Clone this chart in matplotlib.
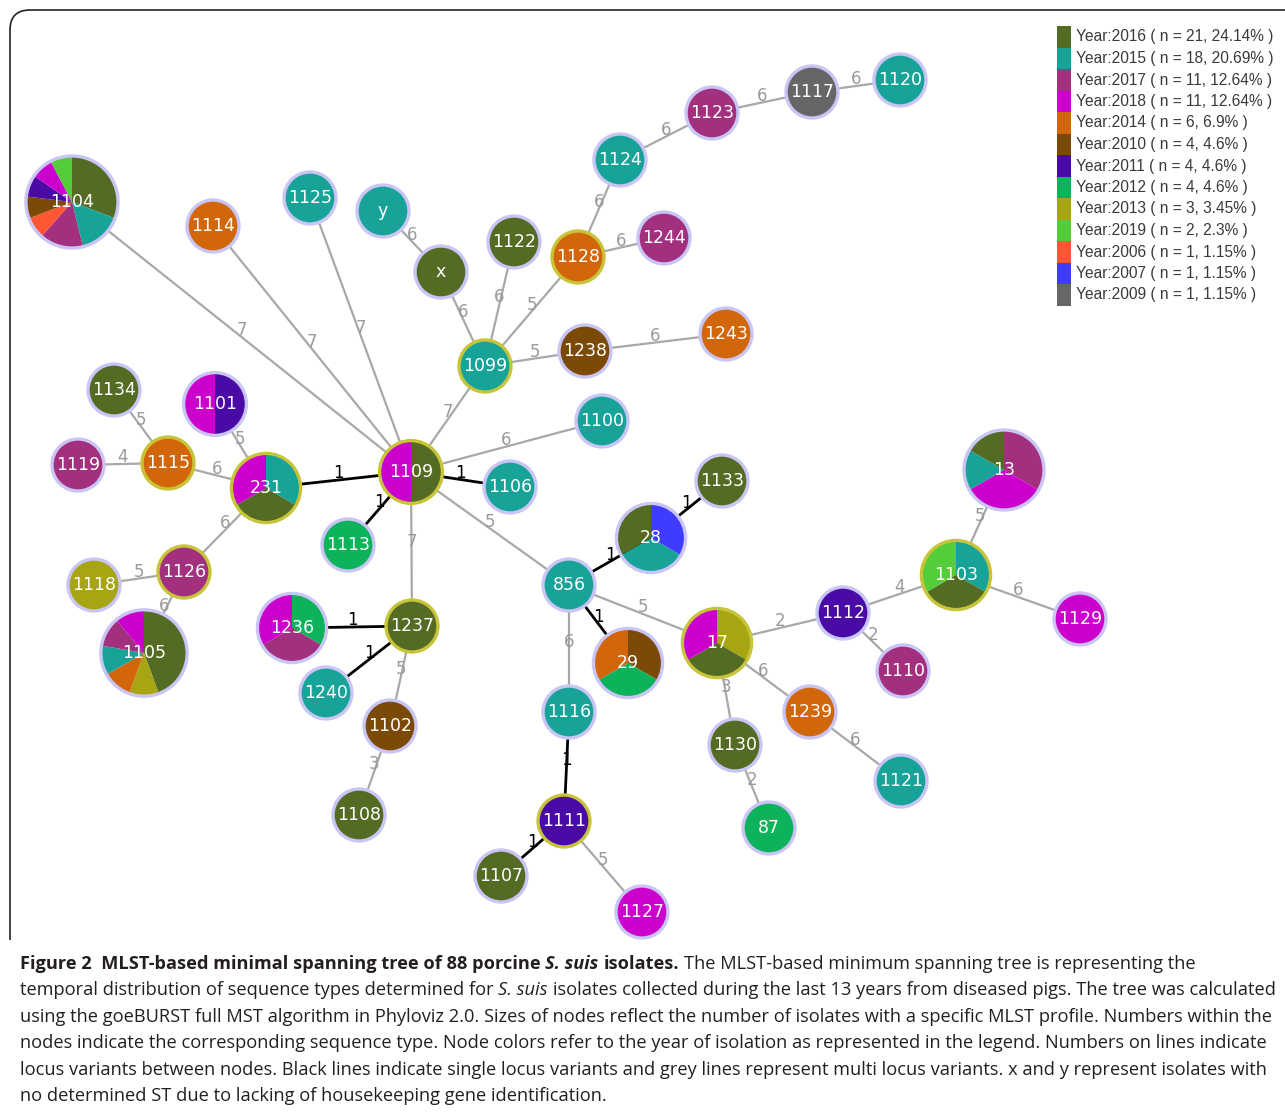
import numpy as np
import matplotlib
matplotlib.use("Agg")
import matplotlib.pyplot as plt
from matplotlib.patches import Wedge, Circle, Rectangle, PathPatch
from matplotlib.path import Path

# Year colours (Phyloviz palette)
year_colors = {
    "2016": "#546b24", "2015": "#17a398", "2017": "#a2307e", "2018": "#cc00cc",
    "2014": "#d2660b", "2010": "#7b4a06", "2011": "#4a0aa6", "2012": "#0db35a",
    "2013": "#a8a512", "2019": "#55cc3a", "2006": "#ff5733", "2007": "#3f3bff",
    "2009": "#666666",
}

# Legend entries
legend_years = ["2016", "2015", "2017", "2018", "2014", "2010", "2011",
                "2012", "2013", "2019", "2006", "2007", "2009"]
legend_n = [21, 18, 11, 11, 6, 4, 4, 4, 3, 2, 1, 1, 1]
legend_pct = ["24.14", "20.69", "12.64", "12.64", "6.9", "4.6", "4.6",
              "4.6", "3.45", "2.3", "1.15", "1.15", "1.15"]

# Sequence types and isolates per year (slice order clockwise from top)
st_labels = ["1104", "1114", "1125", "y", "x", "1122", "1128", "1124", "1123",
             "1117", "1120", "1244", "1099", "1238", "1243", "1100", "1134",
             "1101", "1119", "1115", "231", "1109", "1106", "1113", "1133",
             "28", "13", "856", "1118", "1126", "1105", "1236", "1237", "1240",
             "1102", "1108", "1103", "1129", "1112", "1110", "17", "29", "1239",
             "1121", "1130", "87", "1116", "1111", "1107", "1127"]
st_isolates = [
    {"2016": 4, "2015": 2, "2017": 2, "2006": 1, "2010": 1, "2011": 1, "2018": 1, "2019": 1},
    {"2014": 1}, {"2015": 1}, {"2015": 1}, {"2016": 1}, {"2016": 1}, {"2014": 1},
    {"2015": 1}, {"2017": 1}, {"2009": 1}, {"2015": 1}, {"2017": 1}, {"2015": 1},
    {"2010": 1}, {"2014": 1}, {"2015": 1}, {"2016": 1},
    {"2011": 1, "2018": 1},
    {"2017": 1}, {"2014": 1},
    {"2015": 1, "2016": 1, "2018": 1},
    {"2016": 1, "2018": 1},
    {"2015": 1}, {"2012": 1}, {"2016": 1},
    {"2007": 1, "2015": 1, "2016": 1},
    {"2017": 2, "2018": 2, "2015": 1, "2016": 1},
    {"2015": 1}, {"2013": 1}, {"2017": 1},
    {"2016": 4, "2013": 1, "2014": 1, "2015": 1, "2017": 1, "2018": 1},
    {"2012": 1, "2017": 1, "2018": 1},
    {"2016": 1}, {"2015": 1}, {"2010": 1}, {"2016": 1},
    {"2015": 1, "2016": 1, "2019": 1},
    {"2018": 1}, {"2011": 1}, {"2017": 1},
    {"2013": 1, "2016": 1, "2018": 1},
    {"2010": 1, "2012": 1, "2014": 1},
    {"2014": 1}, {"2015": 1}, {"2016": 1}, {"2012": 1}, {"2015": 1}, {"2011": 1},
    {"2016": 1}, {"2018": 1},
]
# group founders get the yellow outline
founders = ["1109", "231", "1115", "1126", "1237", "1099", "1128", "17", "1103", "1111"]

# goeBURST links and number of differing loci
edge_pairs = [("1104", "1109"), ("1114", "1109"), ("1125", "1109"), ("y", "x"),
              ("x", "1099"), ("1122", "1099"), ("1128", "1099"), ("1124", "1128"),
              ("1123", "1124"), ("1117", "1123"), ("1120", "1117"), ("1244", "1128"),
              ("1238", "1099"), ("1243", "1238"), ("1099", "1109"), ("1100", "1109"),
              ("1106", "1109"), ("231", "1109"), ("1113", "1109"), ("1237", "1109"),
              ("856", "1109"), ("1134", "1115"), ("1119", "1115"), ("1115", "231"),
              ("1101", "231"), ("1126", "231"), ("1118", "1126"), ("1105", "1126"),
              ("1236", "1237"), ("1240", "1237"), ("1102", "1237"), ("1108", "1102"),
              ("28", "856"), ("1133", "28"), ("29", "856"), ("17", "856"),
              ("1116", "856"), ("1111", "1116"), ("1107", "1111"), ("1127", "1111"),
              ("1112", "17"), ("1110", "1112"), ("1103", "1112"), ("13", "1103"),
              ("1129", "1103"), ("1239", "17"), ("1121", "1239"), ("1130", "17"),
              ("87", "1130")]
edge_variants = [7, 7, 7, 6, 6, 6, 5, 6, 6, 6, 6, 6, 5, 6, 7, 6, 1, 1, 1, 7, 5,
                 5, 4, 6, 5, 6, 5, 6, 1, 1, 5, 3, 1, 1, 1, 5, 6, 1, 1, 5, 2, 2,
                 4, 5, 6, 6, 6, 3, 2]

# layout positions of the tree (pixel space)
st_x = [72, 213, 310, 383, 441, 514, 578, 620, 712, 812, 900, 664, 485, 585, 726,
        602, 114, 215, 78, 168, 266, 411, 510, 348, 722, 651, 1004, 569, 94, 184,
        144, 292, 412, 326, 390, 359, 956, 1080, 843, 903, 717, 628, 810, 901, 735,
        769, 569, 564, 501, 642]
st_y = [202, 226, 198, 211, 272, 242, 257, 160, 113, 92, 80, 238, 366, 351, 334,
        421, 390, 404, 465, 463, 488, 472, 487, 545, 481, 538, 470, 585, 585, 572,
        653, 628, 626, 693, 726, 815, 575, 619, 613, 671, 643, 663, 712, 781, 745,
        828, 712, 821, 876, 912]

W, H = 1285, 1115
fig = plt.figure(figsize=(W / 100, H / 100), dpi=100)
ax = fig.add_axes([0, 0, 1, 1])
ax.set_xlim(0, W)
ax.set_ylim(H, 0)
ax.axis("off")

pos = {s: (x, y) for s, x, y in zip(st_labels, st_x, st_y)}

# frame around the tree
frame = Path([(10, 940), (10, 30), (10, 10), (30, 10), (1300, 10)],
             [Path.MOVETO, Path.LINETO, Path.CURVE3, Path.CURVE3, Path.LINETO])
ax.add_patch(PathPatch(frame, fill=False, lw=1.2, edgecolor="#222222"))

# links
for (a, b), v in zip(edge_pairs, edge_variants):
    (x1, y1), (x2, y2) = pos[a], pos[b]
    col = "black" if v == 1 else "#a8a8a8"
    ax.plot([x1, x2], [y1, y2], color=col, lw=2.0 if v == 1 else 1.6, zorder=1,
            solid_capstyle="butt")
    ax.annotate(str(v), ((x1 + x2) / 2, (y1 + y2) / 2), xytext=(0, 5),
                textcoords="offset points", ha="center", va="center",
                fontsize=12, color="black" if v == 1 else "#9a9a9a", zorder=2)

# nodes as pies
for s, comp in zip(st_labels, st_isolates):
    cx, cy = pos[s]
    total = sum(comp.values())
    r = 26 + 18 * np.log10(total)
    start = -90.0
    for yr, c in comp.items():
        span = 360.0 * c / total
        ax.add_patch(Wedge((cx, cy), r, start, start + span,
                           facecolor=year_colors[yr], edgecolor="none", zorder=3))
        start += span
    ring = "#c8c43a" if s in founders else "#c9c5f5"
    ax.add_patch(Circle((cx, cy), r, facecolor="none", edgecolor=ring,
                        lw=2.4, zorder=4))
    ax.text(cx, cy, s, ha="center", va="center", color="white", fontsize=12.5,
            zorder=5)

# legend
for i, (yr, n, p) in enumerate(zip(legend_years, legend_n, legend_pct)):
    yc = 37 + 21.5 * i
    ax.add_patch(Rectangle((1057, yc - 10.75), 14, 21.5, facecolor=year_colors[yr],
                           edgecolor="none", zorder=3))
    ax.text(1076, yc, f"Year:{yr} ( n = {n}, {p}% )", ha="left", va="center",
            fontsize=11.2, color="#3a3a3a", family="Liberation Sans")

# caption, drawn run by run so bold / italic pieces sit inline
caption = [
    [("Figure 2  MLST-based minimal spanning tree of 88 porcine ", "bold", "normal"),
     ("S. suis", "bold", "italic"),
     (" isolates.", "bold", "normal"),
     (" The MLST-based minimum spanning tree is representing the", "normal", "normal")],
    [("temporal distribution of sequence types determined for ", "normal", "normal"),
     ("S. suis", "normal", "italic"),
     (" isolates collected during the last 13 years from diseased pigs. The tree was calculated", "normal", "normal")],
    [("using the goeBURST full MST algorithm in Phyloviz 2.0. Sizes of nodes reflect the number of isolates with a specific MLST profile. Numbers within the", "normal", "normal")],
    [("nodes indicate the corresponding sequence type. Node colors refer to the year of isolation as represented in the legend. Numbers on lines indicate", "normal", "normal")],
    [("locus variants between nodes. Black lines indicate single locus variants and grey lines represent multi locus variants. x and y represent isolates with", "normal", "normal")],
    [("no determined ST due to lacking of housekeeping gene identification.", "normal", "normal")],
]
cap_font = "Open Sans"
renderer = fig.canvas.get_renderer()


def text_width(s, weight, style, size):
    t = ax.text(0, 0, s, fontsize=size, family=cap_font, weight=weight, style=style)
    w = t.get_window_extent(renderer).width
    t.remove()
    return w


def line_width(runs, size):
    return sum(text_width(t.strip(" "), w, st, size) for t, w, st in runs)


# scale the caption so the second line spans the text block
cap_size = 12.0 * 1238.0 / line_width(caption[1], 12.0)

for i, runs in enumerate(caption):
    yc = 964 + 26.4 * i
    x = 20.0
    for txt, weight, style in runs:
        lead = len(txt) - len(txt.lstrip(" "))
        trail = len(txt) - len(txt.rstrip(" "))
        core = txt.strip(" ")
        sp = text_width("a a", weight, style, cap_size) - text_width("aa", weight, style, cap_size)
        x += lead * sp
        ax.text(x, yc, core, ha="left", va="center", fontsize=cap_size,
                family=cap_font, weight=weight, style=style, color="#231f20")
        x += text_width(core, weight, style, cap_size) + trail * sp

fig.savefig("out.png", dpi=100)
